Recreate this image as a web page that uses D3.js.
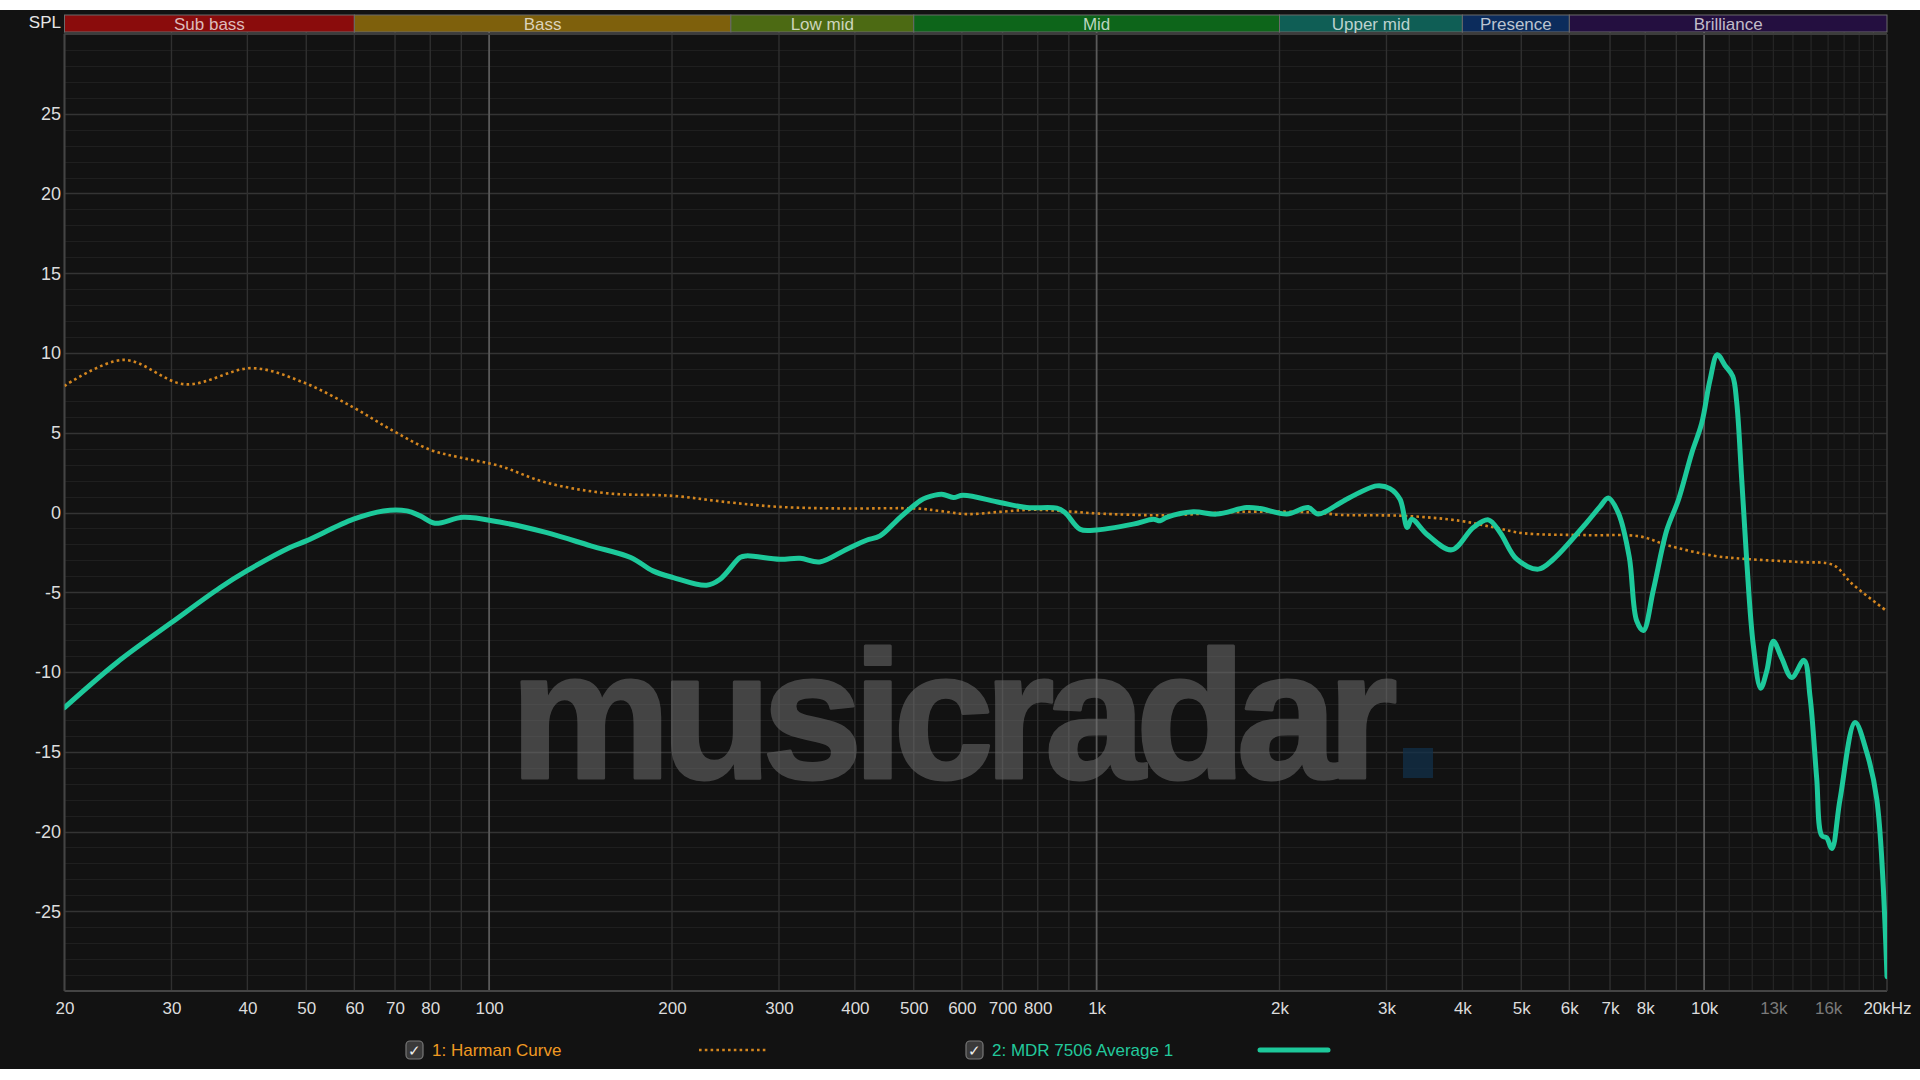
<!DOCTYPE html>
<html>
<head>
<meta charset="utf-8">
<script src="https://cdn.jsdelivr.net/npm/d3@7"></script>
<style>
  html, body { margin: 0; padding: 0; background: #ffffff; }
  svg { display: block; }
  text { font-family: "Liberation Sans", Arial, sans-serif; }
</style>
</head>
<body>
<svg id="chart" width="1920" height="1080"></svg>
<script>
// ---------- DATA ----------
const bandNames = ["Sub bass", "Bass", "Low mid", "Mid", "Upper mid", "Presence", "Brilliance"];
const bandEdges = [20, 60, 250, 500, 2000, 4000, 6000, 20000];

const xTickValues = [20, 30, 40, 50, 60, 70, 80, 100, 200, 300, 400, 500, 600, 700, 800, 1000, 2000, 3000, 4000, 5000, 6000, 7000, 8000, 10000, 13000, 16000, 20000];
const xTickLabels = ["20", "30", "40", "50", "60", "70", "80", "100", "200", "300", "400", "500", "600", "700", "800", "1k", "2k", "3k", "4k", "5k", "6k", "7k", "8k", "10k", "13k", "16k", "20kHz"];
const xDimLabels = ["13k", "16k"];
const yTickValues = [-25, -20, -15, -10, -5, 0, 5, 10, 15, 20, 25];

const seriesNames = ["1: Harman Curve", "2: MDR 7506 Average 1"];

const harmanFreq = [20, 25, 31.6, 40.7, 49.5, 59.8, 69.5, 80, 89.6, 104, 124, 156, 201, 249, 301, 388, 506, 551, 612, 693, 786, 920, 1001, 1304, 1721, 2300, 2516, 3211, 3964, 4517, 5045, 6408, 7843, 8681, 10350, 11900, 14380, 16330, 17500, 20000];
const harmanDb   = [7.94, 9.57, 8.04, 9.05, 8.15, 6.58, 5.12, 3.93, 3.45, 2.92, 1.88, 1.21, 1.04, 0.63, 0.35, 0.25, 0.25, 0.1, -0.1, 0.04, 0.17, 0.04, -0.06, -0.17, 0.04, 0.0, -0.15, -0.21, -0.52, -0.94, -1.3, -1.42, -1.5, -2.04, -2.71, -2.93, -3.11, -3.3, -4.45, -6.19];

const mdrFreq = [20, 24.4, 30, 36.1, 39.9, 47, 50, 59.8, 67, 73.2, 77, 81.4, 90.7, 104, 124, 147, 171, 186, 201, 228, 240, 259, 265, 301, 325, 350, 388, 418, 440, 475, 512, 525, 556, 581, 603, 693, 767, 860, 887, 939, 988, 1149, 1240, 1272, 1304, 1442, 1576, 1766, 1858, 2056, 2230, 2316, 2516, 2579, 2890, 3040, 3158, 3246, 3302, 3494, 3842, 4169, 4414, 4614, 4915, 5335, 5647, 6408, 6740, 6953, 7225, 7530, 7745, 7944, 8250, 8681, 9070, 9541, 9910, 10222, 10512, 10824, 11143, 11312, 11530, 11750, 12050, 12392, 12680, 13000, 13420, 13940, 14600, 14940, 15320, 15620, 15910, 16230, 16740, 17720, 18520, 19240, 20000];
const mdrDb   = [-12.23, -9.4, -6.9, -4.7, -3.66, -2.19, -1.78, -0.42, 0.1, 0.1, -0.21, -0.67, -0.3, -0.6, -1.25, -2.09, -2.82, -3.66, -4.08, -4.56, -4.18, -2.82, -2.72, -2.93, -2.87, -3.1, -2.3, -1.74, -1.47, -0.3, 0.73, 0.94, 1.15, 0.94, 1.08, 0.63, 0.31, 0.27, 0.0, -1.05, -1.11, -0.73, -0.42, -0.52, -0.31, 0.04, -0.1, 0.31, 0.25, -0.1, 0.31, -0.1, 0.6, 0.83, 1.67, 1.5, 0.83, -0.94, -0.42, -1.36, -2.34, -0.94, -0.46, -1.25, -2.93, -3.55, -2.93, -0.63, 0.37, 0.91, -0.03, -2.8, -6.8, -7.4, -4.85, -1.1, 0.78, 3.72, 5.6, 8.28, 9.89, 9.22, 8.55, 6.94, 2.11, -2.98, -8.33, -11.02, -9.94, -8.07, -9.13, -10.34, -9.27, -11.55, -16.64, -20.26, -20.39, -21.06, -17.97, -13.16, -15.03, -17.97, -29.1];

// ---------- STYLE ----------
const bandColors = ["#8a0c0c", "#7e600c", "#4c6a13", "#0d651a", "#0f5e55", "#0c2c5c", "#240f40"];
const harmanColor = "#d4861f";
const mdrColor = "#1dc99b";
const bg = "#121212";

const svg = d3.select("#chart");
const W = 1920, H = 1080;
const pL = 64.5, pR = 1887, pT = 34, pB = 991;

const x = d3.scaleLog().domain([20, 20000]).range([pL, pR]);
const y = d3.scaleLinear().domain([-30, 30]).range([pB, pT]);

// background (dark area with white strips top/bottom like the reference)
svg.append("rect").attr("x", 0).attr("y", 10).attr("width", W).attr("height", 1059).attr("fill", bg);

// ---------- GRID ----------
const grid = svg.append("g");
for (let v = -29; v <= 29; v++) {
  const major = v % 5 === 0;
  grid.append("line")
    .attr("x1", pL).attr("x2", pR)
    .attr("y1", Math.round(y(v)) + 0.5).attr("y2", Math.round(y(v)) + 0.5)
    .attr("stroke", major ? "#343434" : "#1f1f1f")
    .attr("stroke-width", major ? 1.6 : 1.2);
}
const vgrid = [];
for (let f = 20; f <= 100; f += 10) vgrid.push(f);
for (let f = 200; f <= 1000; f += 100) vgrid.push(f);
for (let f = 2000; f <= 10000; f += 1000) vgrid.push(f);
const fineGrid = [];
for (let f = 11000; f <= 19000; f += 1000) fineGrid.push(f);
vgrid.forEach(f => {
  const main = (f === 100 || f === 1000 || f === 10000);
  grid.append("line")
    .attr("x1", x(f)).attr("x2", x(f))
    .attr("y1", pT - 2).attr("y2", pB)
    .attr("stroke", main ? "#5a5a5a" : "#303030")
    .attr("stroke-width", main ? 1.8 : 1.4);
});
fineGrid.forEach(f => {
  grid.append("line")
    .attr("x1", x(f)).attr("x2", x(f))
    .attr("y1", pT - 2).attr("y2", pB)
    .attr("stroke", "#262626")
    .attr("stroke-width", 1.2);
});
grid.append("line").attr("x1", pL).attr("x2", pR).attr("y1", pT).attr("y2", pT).attr("stroke", "#3c3c3c").attr("stroke-width", 2);
grid.append("line").attr("x1", pL).attr("x2", pR).attr("y1", pB).attr("y2", pB).attr("stroke", "#444").attr("stroke-width", 2);
grid.append("line").attr("x1", pL).attr("x2", pL).attr("y1", pT).attr("y2", pB).attr("stroke", "#444").attr("stroke-width", 2);
grid.append("line").attr("x1", pR).attr("x2", pR).attr("y1", pT).attr("y2", pB).attr("stroke", "#3a3a3a").attr("stroke-width", 1.5);

// ---------- WATERMARK ----------
const wm = svg.append("g").attr("opacity", 0.55);
wm.append("text")
  .attr("x", 510).attr("y", 778)
  .attr("font-size", 181)
  .attr("font-weight", "bold")
  .attr("letter-spacing", -9.8)
  .attr("fill", "#6e6e6e")
  .attr("stroke", "#6e6e6e")
  .attr("stroke-width", 3)
  .attr("stroke-linejoin", "round")
  .text("musicradar");
svg.append("rect").attr("x", 1403).attr("y", 748).attr("width", 30).attr("height", 30)
  .attr("fill", "#12304a").attr("fill-opacity", 0.75);

// ---------- BAND BAR ----------
const bandG = svg.append("g");
bandNames.forEach((name, i) => {
  const x0 = x(bandEdges[i]), x1 = x(bandEdges[i + 1]);
  bandG.append("rect")
    .attr("x", x0).attr("y", 15).attr("width", x1 - x0).attr("height", 17)
    .attr("fill", bandColors[i])
    .attr("stroke", "#6a6a6a").attr("stroke-width", 1);
  bandG.append("text")
    .attr("x", (x0 + x1) / 2).attr("y", 29.5)
    .attr("text-anchor", "middle")
    .attr("font-size", 17)
    .attr("fill", d3.interpolateRgb(bandColors[i], "#ffffff")(0.72))
    .text(name);
});
svg.append("text").attr("x", 61).attr("y", 28).attr("text-anchor", "end")
  .attr("font-size", 17).attr("fill", "#e6e6e6").text("SPL");

// ---------- AXES ----------
const xAxis = d3.axisBottom(x)
  .tickValues(xTickValues)
  .tickFormat((d, i) => xTickLabels[i])
  .tickSize(0).tickPadding(0);
const gx = svg.append("g").attr("transform", "translate(0, 1014)").call(xAxis);
gx.select(".domain").remove();
gx.selectAll("text")
  .attr("font-size", 17)
  .attr("font-family", "Liberation Sans, Arial, sans-serif")
  .attr("dy", 0)
  .attr("fill", (d, i) => xDimLabels.includes(xTickLabels[i]) ? "#7a7a7a" : "#dcdcdc");

const yAxis = d3.axisLeft(y).tickValues(yTickValues).tickFormat(d => String(d)).tickSize(0).tickPadding(0);
const gy = svg.append("g").attr("transform", "translate(61, 0)").call(yAxis);
gy.select(".domain").remove();
gy.selectAll("text")
  .attr("font-size", 18)
  .attr("font-family", "Liberation Sans, Arial, sans-serif")
  .attr("fill", "#dcdcdc");

// ---------- CURVES ----------
svg.append("clipPath").attr("id", "clip").append("rect")
  .attr("x", pL).attr("y", pT).attr("width", pR - pL).attr("height", pB - pT);

const line = d3.line()
  .x(d => x(d[0]))
  .y(d => y(d[1]))
  .curve(d3.curveCatmullRom.alpha(0.5));

const harman = harmanFreq.map((f, i) => [f, harmanDb[i]]);
const mdr = mdrFreq.map((f, i) => [f, mdrDb[i]]);

const curves = svg.append("g").attr("clip-path", "url(#clip)");
curves.append("path").datum(harman)
  .attr("d", line).attr("fill", "none")
  .attr("stroke", harmanColor).attr("stroke-width", 2.6)
  .attr("stroke-dasharray", "2.6 3.2");
curves.append("path").datum(mdr)
  .attr("d", line).attr("fill", "none")
  .attr("stroke", mdrColor).attr("stroke-width", 5)
  .attr("stroke-linejoin", "round").attr("stroke-linecap", "round");

// ---------- LEGEND ----------
const legend = svg.append("g");
const legendItems = [
  { name: seriesNames[0], bx: 406, tx: 432, sx0: 699, sx1: 768, color: harmanColor, textColor: "#f09a22", dotted: true },
  { name: seriesNames[1], bx: 966, tx: 992, sx0: 1260, sx1: 1328, color: mdrColor, textColor: "#22c99c", dotted: false }
];
legendItems.forEach(it => {
  legend.append("rect").attr("x", it.bx).attr("y", 1041).attr("width", 17).attr("height", 18)
    .attr("rx", 4).attr("fill", "#3a3a3a").attr("stroke", "#777").attr("stroke-width", 1.2);
  legend.append("text").attr("x", it.bx + 8.5).attr("y", 1056).attr("text-anchor", "middle")
    .attr("font-size", 15).attr("font-family", "DejaVu Sans, sans-serif").attr("fill", "#f0f0f0").text("✓");
  legend.append("text").attr("x", it.tx).attr("y", 1056)
    .attr("font-size", 17).attr("fill", it.textColor).text(it.name);
  const ln = legend.append("line").attr("x1", it.sx0).attr("x2", it.sx1).attr("y1", 1050).attr("y2", 1050)
    .attr("stroke", it.color);
  if (it.dotted) ln.attr("stroke-width", 2.6).attr("stroke-dasharray", "2.6 3.2");
  else ln.attr("stroke-width", 5).attr("stroke-linecap", "round");
});
</script>
</body>
</html>
